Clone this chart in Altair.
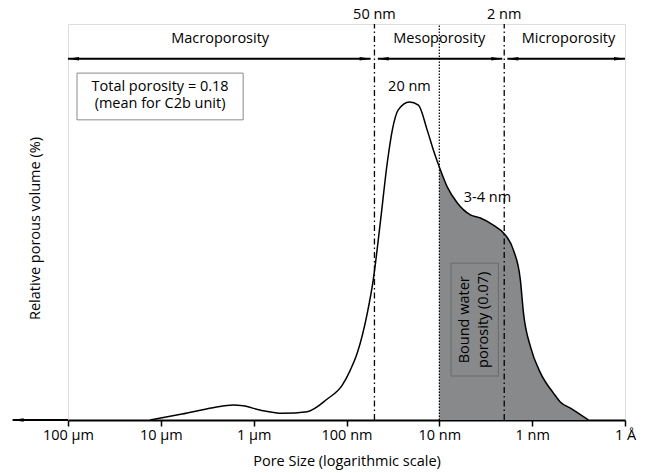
import altair as alt
import pandas as pd

# ---- data ----
pore_nm = [13060, 5902, 2735, 1663, 1298, 851, 481, 265, 161, 111, 91, 76.6, 59.7, 51.5,
           43.3, 36.4, 32.1, 27.7, 21.0, 16.8, 13.5, 11.6, 10, 8.2, 6.4, 4.63, 3.61, 2.62,
           1.94, 1.59, 1.34, 1.24, 1.04, 0.815, 0.590, 0.495, 0.387, 0.248]
volume = [0, 1.5, 3.1, 3.8, 3.6, 2.5, 1.7, 2.1, 5.3, 8.8, 12.6, 16.9, 27.0, 35.4,
          49.7, 64.9, 73.2, 78.3, 80.3, 79.5, 73.2, 68.2, 63.9, 58.8, 54.8, 51.8, 51.0, 49.2,
          46.7, 42.9, 35.4, 27.0, 18.4, 11.9, 6.8, 4.5, 3.0, 0]

tick_values = [1e5, 1e4, 1e3, 100, 10, 1, 0.1]
tick_labels = ["100 µm", "10 µm", "1 µm", "100 nm", "10 nm", "1 nm", "1 Å"]

boundary_nm = [50, 10, 2]
boundary_dash = ["dashdot", "dot", "dashdot"]
boundary_labels = ["50 nm", "", "2 nm"]

region_names = ["Macroporosity", "Mesoporosity", "Microporosity"]
region_center_nm = [2296, 10, 0.406]
region_start_nm = [1e5, 46, 1.85]
region_end_nm = [55, 2.1, 0.1]

FONT = "Open Sans"
FS = 14.5
GRAY = "#87898b"

df = pd.DataFrame({"nm": pore_nm, "vol": volume})
df_shade = df[df["nm"] <= 10]

xscale = alt.Scale(type="log", domain=[0.1, 1e5], reverse=True)
yscale = alt.Scale(domain=[0, 100])

label_expr = " : ".join(
    [f"datum.value == {v} ? '{l}'" for v, l in zip(tick_values, tick_labels)]
) + " : ''"

x_axis = alt.Axis(values=tick_values, labelExpr=label_expr, title="Pore Size (logarithmic scale)",
                  grid=False, domainColor="black", domainWidth=2, tickColor="black", tickWidth=1.5,
                  tickSize=6, labelPadding=2, labelFontSize=FS, labelColor="black", labelFont=FONT,
                  titleFont=FONT, titleFontSize=FS, titleFontWeight="normal", titleColor="black",
                  titlePadding=13, labelFlush=False, labelOverlap=False)
y_axis = alt.Axis(labels=False, ticks=False, domain=False, grid=False,
                  title="Relative porous volume (%)", titleFont=FONT, titleFontSize=FS,
                  titleFontWeight="normal", titleColor="black", titlePadding=26, titleY=204)

X = alt.X("nm:Q", scale=xscale, axis=x_axis)
Y = alt.Y("vol:Q", scale=yscale, axis=y_axis)

area = alt.Chart(df_shade).mark_area(color=GRAY, interpolate="monotone", opacity=1).encode(x=X, y=Y)
line = alt.Chart(df).mark_line(color="black", strokeWidth=1.5, interpolate="monotone").encode(
    x=alt.X("nm:Q", scale=xscale), y=alt.Y("vol:Q", scale=yscale))

# vertical boundaries
bdf = pd.DataFrame({"nm": boundary_nm, "dash": boundary_dash, "label": boundary_labels,
                    "y0": [0] * 3, "y1": [100] * 3, "ylab": [102.3] * 3})
rule_dd = alt.Chart(bdf[bdf["dash"] == "dashdot"]).mark_rule(
    color="black", strokeWidth=1.3, strokeDash=[6, 3, 1.5, 3]).encode(
    x=alt.X("nm:Q", scale=xscale), y=alt.Y("y0:Q", scale=yscale), y2="y1:Q")
rule_dot = alt.Chart(bdf[bdf["dash"] == "dot"]).mark_rule(
    color="black", strokeWidth=1.2, strokeDash=[1.5, 1.5]).encode(
    x=alt.X("nm:Q", scale=xscale), y=alt.Y("y0:Q", scale=yscale), y2="y1:Q")
top_labels = alt.Chart(bdf[bdf["label"] != ""]).mark_text(
    font=FONT, fontSize=FS, color="black", baseline="middle").encode(
    x=alt.X("nm:Q", scale=xscale), y=alt.Y("ylab:Q", scale=yscale), text="label:N")

# region arrows
rdf = pd.DataFrame({"name": region_names, "c": region_center_nm, "s": region_start_nm,
                    "e": region_end_nm, "y": [91.2] * 3, "ylab": [96.2] * 3})
arrow_line = alt.Chart(rdf).mark_rule(color="black", strokeWidth=2).encode(
    x=alt.X("s:Q", scale=xscale), x2="e:Q", y=alt.Y("y:Q", scale=yscale))
LEFT_HEAD = "M -1 0 L 1 -0.32 L 1 0.32 Z"
RIGHT_HEAD = "M 1 0 L -1 -0.32 L -1 0.32 Z"
head_l = alt.Chart(rdf).mark_point(shape=LEFT_HEAD, filled=True, size=121, color="black",
                                   opacity=1, xOffset=5.5).encode(
    x=alt.X("s:Q", scale=xscale), y=alt.Y("y:Q", scale=yscale))
head_r = alt.Chart(rdf).mark_point(shape=RIGHT_HEAD, filled=True, size=121, color="black",
                                   opacity=1, xOffset=-5.5).encode(
    x=alt.X("e:Q", scale=xscale), y=alt.Y("y:Q", scale=yscale))
region_text = alt.Chart(rdf).mark_text(font=FONT, fontSize=FS, color="black", baseline="middle").encode(
    x=alt.X("c:Q", scale=xscale), y=alt.Y("ylab:Q", scale=yscale), text="name:N")

# x-axis arrow extension to the left
ext = pd.DataFrame({"a": [1e5], "b": [3.95e5], "y": [0]})
ext_line = alt.Chart(ext).mark_rule(color="black", strokeWidth=2).encode(
    x=alt.X("a:Q", scale=xscale), x2="b:Q", y=alt.Y("y:Q", scale=yscale))
ext_head = alt.Chart(ext).mark_point(shape=LEFT_HEAD, filled=True, size=121, color="black",
                                     opacity=1, xOffset=5.5).encode(
    x=alt.X("b:Q", scale=xscale), y=alt.Y("y:Q", scale=yscale))

# annotation boxes
box_df = pd.DataFrame({"x0": [80000], "x1": [1298], "y0": [75.8], "y1": [87.6]})
box = alt.Chart(box_df).mark_rect(fill="white", stroke="#8a8a8a", strokeWidth=1).encode(
    x=alt.X("x0:Q", scale=xscale), x2="x1:Q", y=alt.Y("y0:Q", scale=yscale), y2="y1:Q")
box_text = alt.Chart(pd.DataFrame({"x": [10190], "y": [84.2],
                                   "t": [["Total porosity = 0.18", "(mean for C2b unit)"]]})).mark_text(
    font=FONT, fontSize=FS, color="black", baseline="middle", lineHeight=17.5).encode(
    x=alt.X("x:Q", scale=xscale), y=alt.Y("y:Q", scale=yscale), text="t")

bw_df = pd.DataFrame({"x0": [7.48], "x1": [2.31], "y0": [11.1], "y1": [39.6]})
bw_box = alt.Chart(bw_df).mark_rect(fill=GRAY, stroke="#6a6c6e", strokeWidth=1).encode(
    x=alt.X("x0:Q", scale=xscale), x2="x1:Q", y=alt.Y("y0:Q", scale=yscale), y2="y1:Q")
bw_text = alt.Chart(pd.DataFrame({"x": [5.25], "y": [25.3],
                                  "t": [["Bound water", "porosity (0.07)"]]})).mark_text(
    font=FONT, fontSize=FS, color="black", baseline="middle", angle=270, lineHeight=19).encode(
    x=alt.X("x:Q", scale=xscale), y=alt.Y("y:Q", scale=yscale), text="t")

peak_df = pd.DataFrame({"x": [21.0, 3.03], "y": [84.1, 56.0], "t": ["20 nm", "3-4 nm"]})
peak_text = alt.Chart(peak_df).mark_text(font=FONT, fontSize=FS, color="black", baseline="middle").encode(
    x=alt.X("x:Q", scale=xscale), y=alt.Y("y:Q", scale=yscale), text="t:N")

chart = alt.layer(
    area, bw_box, bw_text, rule_dd, rule_dot, line, box, box_text, peak_text,
    arrow_line, head_l, head_r, region_text, top_labels, ext_line, ext_head
).properties(
    width=557, height=396, autosize="none",
    padding={"left": 68, "top": 24, "right": 25, "bottom": 53}
).configure_view(stroke="black", strokeWidth=1.4).configure(background="white")

chart.save("out.html", embed_options={"renderer": "svg", "actions": False})
